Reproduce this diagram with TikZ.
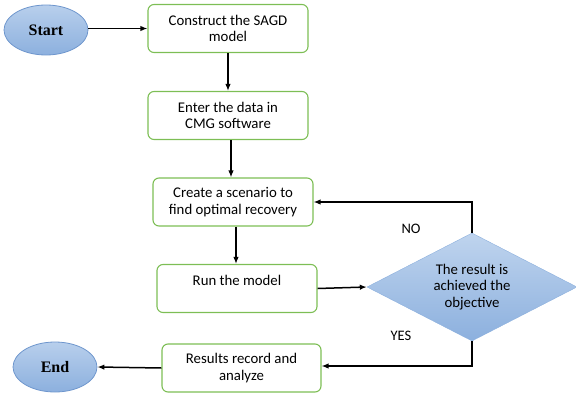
\documentclass[tikz,border=0pt]{standalone}
\usepackage{fontspec}
\setmainfont{Carlito}
\newfontfamily\termfont{Liberation Serif}
\usepackage{xcolor}
\usetikzlibrary{arrows.meta,shapes.geometric}
\definecolor{boxgreen}{RGB}{125,190,85}
\definecolor{bluelight}{RGB}{184,207,236}
\definecolor{bluedark}{RGB}{140,176,222}
\definecolor{blueedge}{RGB}{110,150,205}

\begin{document}
\begin{tikzpicture}[x=1pt,y=-1pt,>={Latex[length=7pt,width=5.5pt]},
  box/.style={rectangle,rounded corners=6pt,draw=boxgreen,line width=1.1pt,
    minimum width=160pt,minimum height=48pt,align=center,
    font=\fontsize{14.8}{16.5}\selectfont},
  term/.style={ellipse,draw=blueedge,line width=0.8pt,top color=bluelight,
    bottom color=bluedark,minimum width=84pt,minimum height=50pt,
    font=\termfont\bfseries\fontsize{16}{18}\selectfont},
  test/.style={diamond,top color=bluelight!90!white,bottom color=bluedark,
    draw=bluedark,minimum width=210pt,minimum height=108pt,aspect=2,inner sep=0pt,
    align=center,font=\fontsize{14.8}{16.5}\selectfont},
  arr/.style={->,line width=1.5pt},
  lbl/.style={font=\fontsize{14.5}{16}\selectfont}]
\useasboundingbox (0,0) rectangle (576,394);
\node[term] (start) at (46,30) {Start};
\node[box] (b1) at (228,28.5) {Construct the SAGD\\model};
\node[box] (b2) at (228,115.5) {Enter the data in\\CMG software};
\node[box] (b3) at (233,202) {Create a scenario to\\find optimal recovery};
\node[box] (b4) at (237,288.5) {Run the model\\\mbox{}};
\node[test] (dia) at (472,287) {The result is\\achieved the\\objective};
\node[box,minimum width=159pt] (b5) at (241.5,368) {Results record and\\analyze};
\node[term] (end) at (55,367) {End};
\draw[arr] (start.east |- b1.west) -- (b1.west);
\draw[arr] (b1.south) -- (b2.north);
\draw[arr] ([xshift=3pt]b2.south) -- ([xshift=-2pt]b3.north);
\draw[arr] ([xshift=3pt]b3.south) -- ([xshift=-1pt]b4.north);
\draw[arr] (b4.east) -- (dia.west);
\draw[arr] (dia.north) |- (b3.east);
\draw[arr] (dia.south) |- ([yshift=2pt]b5.east);
\draw[arr] (b5.west) -- (end.east);
\node[lbl] (no) at (411,229) {NO};
\node[lbl] (yes) at (401,336) {YES};
\end{tikzpicture}
\end{document}
